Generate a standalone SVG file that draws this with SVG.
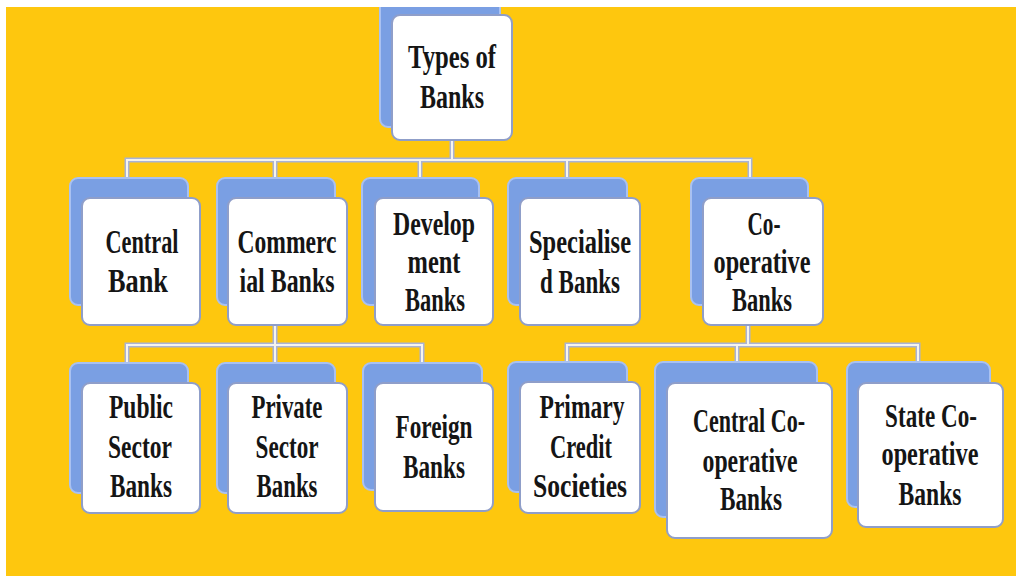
<svg xmlns="http://www.w3.org/2000/svg" width="1016" height="578" viewBox="0 0 1016 578">
<style>
.bk{fill:#7a9fe3;stroke:#a9c1f1;stroke-width:2}
.fr{fill:#ffffff;stroke:#8f9ec9;stroke-width:2}
.lo{fill:none;stroke:#a9b3d6;stroke-width:5}
.li{fill:none;stroke:#f6f4ee;stroke-width:2}
text{font-family:"Liberation Serif","DejaVu Serif",serif;font-weight:bold;font-size:34px;fill:#151515;text-anchor:middle}
</style>
<defs>
<clipPath id="c"><rect x="6" y="7" width="1010" height="569"/></clipPath>
</defs>
<rect x="0" y="0" width="1016" height="578" fill="#ffffff"/>
<rect x="6" y="7" width="1010" height="569" fill="#fec70e"/>
<g clip-path="url(#c)">
<g id="connectors">
<path class="lo" d="M452,140V160 M127,178V160H750V178 M275,160V178 M420,160V178 M567,160V178 M275,325V345 M127,363V345H422V363 M275,345V363 M748,325V345 M567,362V345H918V362 M737,345V362"/>
<path class="li" d="M452,140V160 M127,178V160H750V178 M275,160V178 M420,160V178 M567,160V178 M275,325V345 M127,363V345H422V363 M275,345V363 M748,325V345 M567,362V345H918V362 M737,345V362"/>
</g>
<g id="n-types">
<rect class="bk" x="380" y="-4" width="120" height="131" rx="8"/>
<rect class="fr" x="392" y="15" width="120" height="125" rx="8"/>
<text x="452" y="68" textLength="88" lengthAdjust="spacingAndGlyphs">Types of</text>
<text x="452" y="108" textLength="64" lengthAdjust="spacingAndGlyphs">Banks</text>
</g>
<g id="n-central">
<rect class="bk" x="70" y="178" width="118" height="127" rx="8"/>
<rect class="fr" x="82" y="198" width="118" height="127" rx="8"/>
<text x="142" y="253" textLength="73" lengthAdjust="spacingAndGlyphs">Central</text>
<text x="138" y="292" textLength="60" lengthAdjust="spacingAndGlyphs">Bank</text>
</g>
<g id="n-commercial">
<rect class="bk" x="217" y="178" width="118" height="127" rx="8"/>
<rect class="fr" x="228" y="198" width="119" height="127" rx="8"/>
<text x="287" y="253" textLength="99" lengthAdjust="spacingAndGlyphs">Commerc</text>
<text x="287" y="292" textLength="95" lengthAdjust="spacingAndGlyphs">ial Banks</text>
</g>
<g id="n-development">
<rect class="bk" x="362" y="178" width="117" height="127" rx="8"/>
<rect class="fr" x="375" y="198" width="118" height="127" rx="8"/>
<text x="434" y="235" textLength="82" lengthAdjust="spacingAndGlyphs">Develop</text>
<text x="434" y="273" textLength="53" lengthAdjust="spacingAndGlyphs">ment</text>
<text x="435" y="311" textLength="60" lengthAdjust="spacingAndGlyphs">Banks</text>
</g>
<g id="n-specialised">
<rect class="bk" x="508" y="178" width="119" height="127" rx="8"/>
<rect class="fr" x="520" y="198" width="120" height="127" rx="8"/>
<text x="580" y="253" textLength="102" lengthAdjust="spacingAndGlyphs">Specialise</text>
<text x="580" y="293" textLength="80" lengthAdjust="spacingAndGlyphs">d Banks</text>
</g>
<g id="n-cooperative">
<rect class="bk" x="691" y="178" width="117" height="127" rx="8"/>
<rect class="fr" x="703" y="198" width="120" height="127" rx="8"/>
<text x="764" y="235" textLength="33" lengthAdjust="spacingAndGlyphs">Co-</text>
<text x="762" y="273" textLength="97" lengthAdjust="spacingAndGlyphs">operative</text>
<text x="762" y="311" textLength="60" lengthAdjust="spacingAndGlyphs">Banks</text>
</g>
<g id="n-public">
<rect class="bk" x="70" y="363" width="118" height="130" rx="8"/>
<rect class="fr" x="82" y="383" width="118" height="130" rx="8"/>
<text x="141" y="418" textLength="64" lengthAdjust="spacingAndGlyphs">Public</text>
<text x="140" y="458" textLength="64" lengthAdjust="spacingAndGlyphs">Sector</text>
<text x="141" y="497" textLength="62" lengthAdjust="spacingAndGlyphs">Banks</text>
</g>
<g id="n-private">
<rect class="bk" x="217" y="363" width="118" height="130" rx="8"/>
<rect class="fr" x="228" y="383" width="119" height="130" rx="8"/>
<text x="287" y="418" textLength="71" lengthAdjust="spacingAndGlyphs">Private</text>
<text x="287" y="458" textLength="63" lengthAdjust="spacingAndGlyphs">Sector</text>
<text x="287" y="497" textLength="61" lengthAdjust="spacingAndGlyphs">Banks</text>
</g>
<g id="n-foreign">
<rect class="bk" x="363" y="363" width="119" height="127" rx="8"/>
<rect class="fr" x="375" y="383" width="118" height="128" rx="8"/>
<text x="434" y="438" textLength="77" lengthAdjust="spacingAndGlyphs">Foreign</text>
<text x="434" y="478" textLength="62" lengthAdjust="spacingAndGlyphs">Banks</text>
</g>
<g id="n-primary">
<rect class="bk" x="508" y="362" width="119" height="130" rx="8"/>
<rect class="fr" x="520" y="382" width="120" height="131" rx="8"/>
<text x="582" y="418" textLength="85" lengthAdjust="spacingAndGlyphs">Primary</text>
<text x="581" y="458" textLength="62" lengthAdjust="spacingAndGlyphs">Credit</text>
<text x="580" y="497" textLength="94" lengthAdjust="spacingAndGlyphs">Societies</text>
</g>
<g id="n-centralcoop">
<rect class="bk" x="655" y="362" width="162" height="155" rx="8"/>
<rect class="fr" x="667" y="383" width="165" height="155" rx="8"/>
<text x="749" y="432" textLength="112" lengthAdjust="spacingAndGlyphs">Central Co-</text>
<text x="750" y="472" textLength="95" lengthAdjust="spacingAndGlyphs">operative</text>
<text x="751" y="510" textLength="62" lengthAdjust="spacingAndGlyphs">Banks</text>
</g>
<g id="n-statecoop">
<rect class="bk" x="847" y="362" width="143" height="145" rx="8"/>
<rect class="fr" x="858" y="383" width="145" height="144" rx="8"/>
<text transform="translate(931,427) scale(0.68,1)" x="0" y="0">State Co-</text>
<text x="930" y="465" textLength="97" lengthAdjust="spacingAndGlyphs">operative</text>
<text x="930" y="505" textLength="63" lengthAdjust="spacingAndGlyphs">Banks</text>
</g>
</g>
</svg>
